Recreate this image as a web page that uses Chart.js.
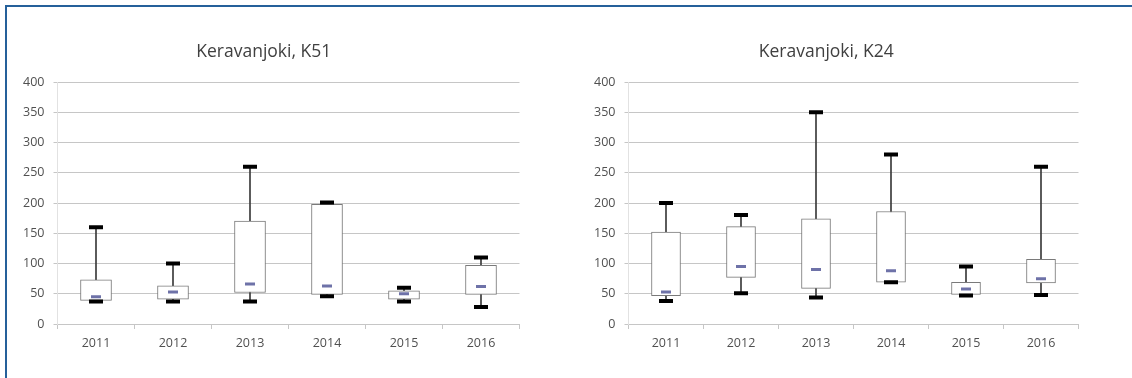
<!DOCTYPE html>
<html>
<head>
<meta charset="utf-8">
<script src="https://cdn.jsdelivr.net/npm/chart.js@4"></script>
<style>
  html, body { margin: 0; padding: 0; background: #fff; }
  body { width: 1132px; height: 378px; position: relative; overflow: hidden; }
  #frame { position: absolute; left: 5px; top: 5px; width: 1140px; height: 390px;
           border-top: 2px solid #25609a; border-left: 2px solid #25609a; }
  .box { position: absolute; top: 30px; width: 530px; height: 330px; }
  #wrapA { left: 8px; }
  #wrapB { left: 574px; }
</style>
</head>
<body>
<div id="frame"></div>
<div class="box" id="wrapA"><canvas id="chartA"></canvas></div>
<div class="box" id="wrapB"><canvas id="chartB"></canvas></div>
<script>
// ── DATA ──────────────────────────────────────────────────────
const YEARS = ['2011', '2012', '2013', '2014', '2015', '2016'];

// Keravanjoki, K51
const K51_MIN = [37, 37, 37, 46, 37, 28];
const K51_Q1  = [39, 41, 52, 49, 41, 49];
const K51_MED = [45, 53, 66, 63, 50, 62];
const K51_Q3  = [73, 63, 170, 198, 55, 97];
const K51_MAX = [160, 100, 260, 201, 60, 110];

// Keravanjoki, K24
const K24_MIN = [38, 51, 44, 69, 47, 48];
const K24_Q1  = [47, 77, 59, 69, 49, 68];
const K24_MED = [53, 95, 90, 88, 58, 75];
const K24_Q3  = [152, 161, 174, 186, 69, 107];
const K24_MAX = [200, 180, 350, 280, 95, 260];

const FONT  = "'Open Sans', 'Liberation Sans', sans-serif";
const GRID  = '#c6c6c6';
const LABEL = '#505050';

// ── BOX PLOT BUILDER ──────────────────────────────────────────
function renderBox(id, title, mins, q1, med, q3, maxs, axisWidth, padRight, boxWidth) {
  const ctx = document.getElementById(id).getContext('2d');

  return new Chart(ctx, {
    type: 'bar',
    data: {
      labels: YEARS,
      datasets: [
        {
          // whisker from min to max, covered by the box
          data: mins.map((m, i) => [m, maxs[i]]),
          backgroundColor: '#3a3a3a',
          barThickness: 1,
          grouped: false,
          order: 3,
        },
        {
          data: q1.map((v, i) => [v, q3[i]]),
          backgroundColor: '#ffffff',
          borderColor: '#7a7a7a',
          borderWidth: 1,
          borderSkipped: false,
          barThickness: boxWidth,
          grouped: false,
          order: 2,
        },
        {
          type: 'line', data: maxs, showLine: false,
          pointStyle: 'line', pointRadius: 7, pointBorderWidth: 4,
          pointBorderColor: '#000', order: 1,
        },
        {
          type: 'line', data: mins, showLine: false,
          pointStyle: 'line', pointRadius: 7, pointBorderWidth: 4,
          pointBorderColor: '#000', order: 1,
        },
        {
          type: 'line', data: med, showLine: false,
          pointStyle: 'line', pointRadius: 5, pointBorderWidth: 3,
          pointBorderColor: '#6e72a8', order: 0,
        },
      ]
    },
    options: {
      responsive: true,
      maintainAspectRatio: false,
      animation: false,
      layout: { padding: { left: 0, right: padRight, top: 0, bottom: 0 } },
      plugins: {
        legend: { display: false },
        tooltip: { enabled: false },
        title: {
          display: true,
          text: title,
          color: '#404040',
          font: { family: FONT, size: 17.5, weight: 'normal' },
          padding: { top: 11.5, bottom: 19.5 },
        }
      },
      scales: {
        x: {
          afterFit: (s) => { s.height = 36; },
          grid: { drawOnChartArea: false, color: GRID, tickLength: 5 },
          border: { display: true, color: GRID },
          ticks: { font: { family: FONT, size: 12.5 }, color: LABEL, padding: 7 }
        },
        y: {
          min: 0, max: 400,
          afterFit: (s) => { s.width = axisWidth; },
          grid: { color: GRID, tickLength: 4 },
          border: { display: true, color: '#e2e2e2' },
          ticks: { stepSize: 50, font: { family: FONT, size: 12.5 }, color: LABEL, padding: 9 }
        }
      }
    }
  });
}

renderBox('chartA', 'Keravanjoki, K51', K51_MIN, K51_Q1, K51_MED, K51_Q3, K51_MAX, 49.5, 18.5, 31);
renderBox('chartB', 'Keravanjoki, K24', K24_MIN, K24_Q1, K24_MED, K24_Q3, K24_MAX, 54.5, 25.5, 29);
</script>
</body>
</html>
